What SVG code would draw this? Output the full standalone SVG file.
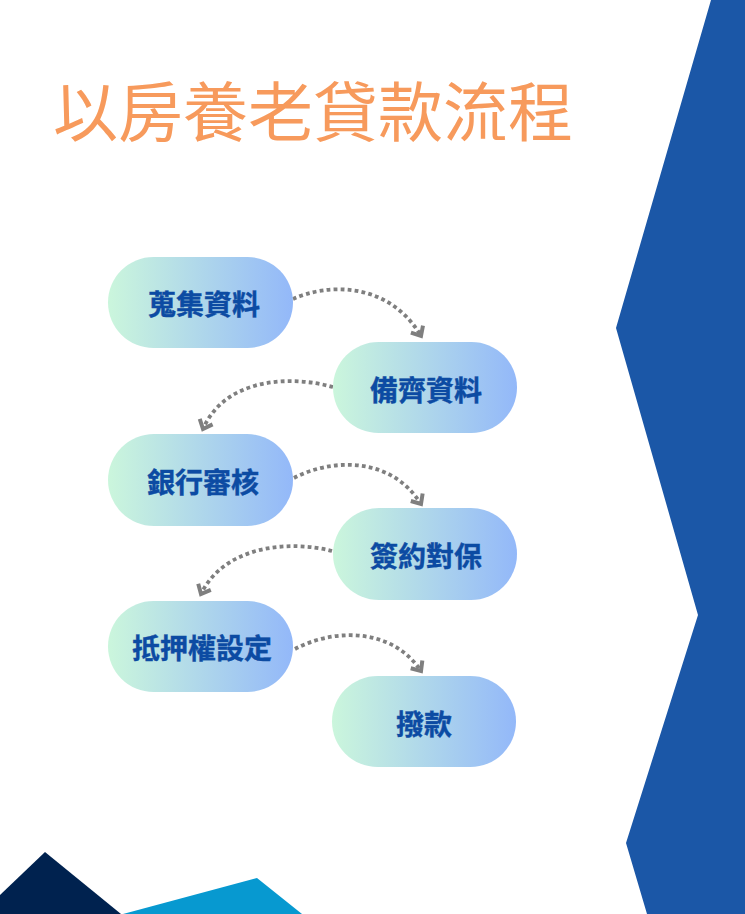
<svg xmlns="http://www.w3.org/2000/svg" width="745" height="914" viewBox="0 0 745 914">
  <style>
    .node-bg { fill: url(#nodeGrad); }
    .node-text { font-family: "Noto Sans CJK TC", "Noto Sans CJK SC", sans-serif; font-weight: 700; font-size: 28px; fill: #0C4BA3; stroke: #0C4BA3; stroke-width: 0.4; text-anchor: middle; }
    .title { font-family: "Noto Sans CJK TC", "Noto Sans CJK SC", sans-serif; font-weight: 400; font-size: 65px; fill: #F79A5C; }
    .conn { fill: none; stroke: #7F7F7F; stroke-width: 3.8; stroke-dasharray: 3.8 3.2; marker-end: url(#chev); }
  </style>
  <defs>
    <linearGradient id="nodeGrad" x1="0" y1="0" x2="1" y2="0">
      <stop offset="0" stop-color="#CBF6DC"/>
      <stop offset="1" stop-color="#93B8F9"/>
    </linearGradient>
    <marker id="chev" markerUnits="userSpaceOnUse" markerWidth="18" markerHeight="18" viewBox="-11 -9 13 18" refX="0" refY="0" orient="auto">
      <path d="M-8,-7 L0,0 L-8,7" fill="none" stroke="#7F7F7F" stroke-width="4" stroke-linejoin="miter"/>
    </marker>
  </defs>

  <rect x="0" y="0" width="745" height="914" fill="#FFFFFF"/>

  <g id="decor">
    <polygon points="711,0 745,0 745,914 647,914 626,843 698,615 616,328" fill="#1B57A7"/>
    <polygon points="0,895 45,852 121,914 0,914" fill="#00224F"/>
    <polygon points="123,914 257,878 302,914" fill="#0799D0"/>
  </g>

  <g id="title">
    <text class="title" x="53" y="136">以房養老貸款流程</text>
  </g>

  <g id="connectors">
    <path class="conn" d="M293,299 C325,284 388,280 421,336"/>
    <path class="conn" d="M333,387 C290,375 225,378 203,429"/>
    <path class="conn" d="M294,478 C330,459 390,455 421,504"/>
    <path class="conn" d="M332,551 C290,540 225,545 201,594"/>
    <path class="conn" d="M295,649 C330,630 390,625 421,671"/>
  </g>

  <g id="node1">
    <rect class="node-bg" x="108" y="257" width="185" height="91" rx="45.5"/>
    <text class="node-text" x="204" y="315">蒐集資料</text>
  </g>
  <g id="node2">
    <rect class="node-bg" x="333" y="342" width="184" height="91" rx="45.5"/>
    <text class="node-text" x="426" y="401">備齊資料</text>
  </g>
  <g id="node3">
    <rect class="node-bg" x="108" y="434" width="185" height="92" rx="46"/>
    <text class="node-text" x="203" y="493">銀行審核</text>
  </g>
  <g id="node4">
    <rect class="node-bg" x="333" y="508" width="184" height="92" rx="46"/>
    <text class="node-text" x="426" y="567">簽約對保</text>
  </g>
  <g id="node5">
    <rect class="node-bg" x="108" y="601" width="185" height="91" rx="45.5"/>
    <text class="node-text" x="202" y="659">抵押權設定</text>
  </g>
  <g id="node6">
    <rect class="node-bg" x="332" y="676" width="184" height="91" rx="45.5"/>
    <text class="node-text" x="424" y="735">撥款</text>
  </g>
</svg>
